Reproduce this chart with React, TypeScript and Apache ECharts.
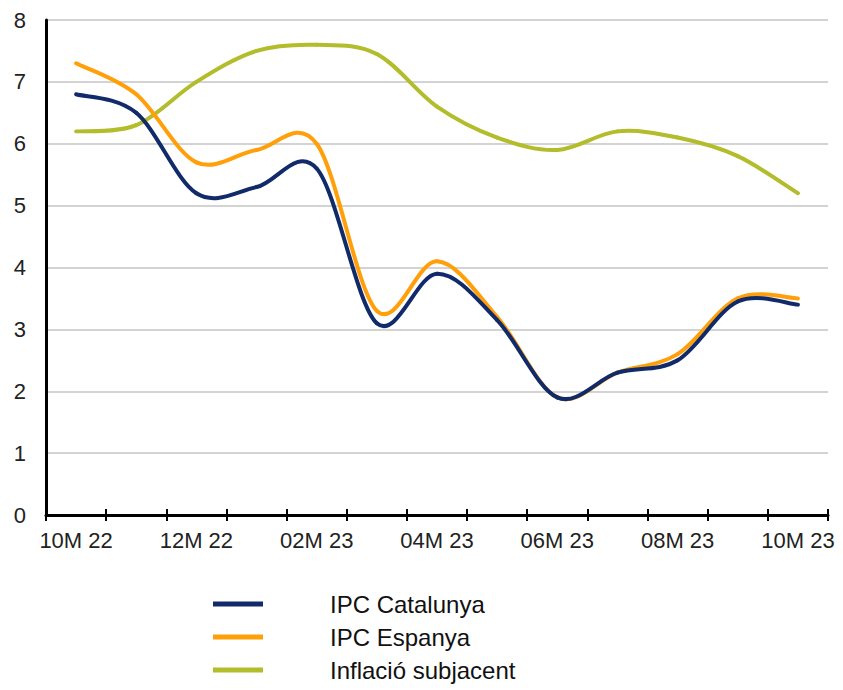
import React, { useEffect, useRef } from "react";
import * as echarts from "echarts";

const categories = [
  "10M 22", "11M 22", "12M 22", "01M 23", "02M 23", "03M 23", "04M 23",
  "05M 23", "06M 23", "07M 23", "08M 23", "09M 23", "10M 23",
];
const ipcCatalunya = [6.8, 6.5, 5.2, 5.3, 5.6, 3.1, 3.9, 3.15, 1.9, 2.3, 2.5, 3.45, 3.4];
const ipcEspanya = [7.3, 6.8, 5.7, 5.9, 6.0, 3.3, 4.1, 3.2, 1.9, 2.3, 2.6, 3.5, 3.5];
const inflacioSubjacent = [6.2, 6.3, 7.0, 7.5, 7.6, 7.45, 6.6, 6.1, 5.9, 6.2, 6.1, 5.8, 5.2];
const seriesNames = ["IPC Catalunya", "IPC Espanya", "Inflació subjacent"];
const seriesColors = ["#112a6a", "#ff9f0a", "#b3bc2b"];
const yMin = 0;
const yMax = 8;
const yInterval = 1;

function smoothSegmentRenderer(values: number[], color: string) {
  return (params: any, api: any) => {
    const i = params.dataIndex;
    const n = values.length;
    if (i >= n - 1) return null;
    const pt = (k: number) => {
      const kk = Math.max(0, Math.min(n - 1, k));
      return api.coord([kk, values[kk]]);
    };
    const p0 = pt(i - 1);
    const p1 = pt(i);
    const p2 = pt(i + 1);
    const p3 = pt(i + 2);
    return {
      type: "bezierCurve",
      shape: {
        x1: p1[0],
        y1: p1[1],
        x2: p2[0],
        y2: p2[1],
        cpx1: p1[0] + (p2[0] - p0[0]) / 6,
        cpy1: p1[1] + (p2[1] - p0[1]) / 6,
        cpx2: p2[0] - (p3[0] - p1[0]) / 6,
        cpy2: p2[1] - (p3[1] - p1[1]) / 6,
      },
      style: { stroke: color, lineWidth: 4, fill: "none", lineCap: "round" },
    };
  };
}

export default function App() {
  const ref = useRef<HTMLDivElement>(null);

  useEffect(() => {
    if (!ref.current) return;
    const chart = echarts.init(ref.current, undefined, { renderer: "svg" });
    const font = "'Liberation Sans', Arial, sans-serif";
    const dataSets = [ipcCatalunya, ipcEspanya, inflacioSubjacent];
    chart.setOption({
      animation: false,
      backgroundColor: "#ffffff",
      grid: { left: 46, right: 15, top: 20, bottom: 175, containLabel: false },
      legend: {
        orient: "vertical",
        left: 213,
        top: 591,
        padding: 0,
        icon: "rect",
        itemWidth: 50,
        itemHeight: 5,
        itemGap: 7,
        data: seriesNames,
        textStyle: {
          fontFamily: font,
          fontSize: 24,
          color: "#111111",
          lineHeight: 26,
          padding: [0, 0, 0, 62],
        },
      },
      xAxis: [
        {
          type: "category",
          data: categories,
          boundaryGap: true,
          axisLine: { show: true, lineStyle: { color: "#000000", width: 3 } },
          axisTick: { show: true, interval: 0, length: 6, lineStyle: { color: "#000000", width: 2 } },
          axisLabel: {
            interval: 1,
            fontFamily: font,
            fontSize: 22,
            color: "#222222",
            margin: 14,
          },
          splitLine: { show: false },
        },
        {
          type: "category",
          data: categories,
          position: "bottom",
          boundaryGap: true,
          axisLine: { show: false },
          axisTick: { show: true, inside: true, interval: 0, length: 6, lineStyle: { color: "#000000", width: 2 } },
          axisLabel: { show: false },
          splitLine: { show: false },
        },
      ],
      yAxis: {
        type: "value",
        min: yMin,
        max: yMax,
        interval: yInterval,
        axisLine: { show: true, lineStyle: { color: "#000000", width: 3 } },
        axisTick: { show: false },
        axisLabel: {
          fontFamily: font,
          fontSize: 22,
          color: "#222222",
          margin: 20,
        },
        splitLine: { show: true, lineStyle: { color: "#c4c4c4", width: 1.5 } },
      },
      series: seriesNames.map((name, i) => ({
        name,
        type: "custom",
        coordinateSystem: "cartesian2d",
        xAxisIndex: 0,
        yAxisIndex: 0,
        encode: { x: 0, y: 1 },
        data: dataSets[i].map((v, k) => [k, v]),
        renderItem: smoothSegmentRenderer(dataSets[i], seriesColors[i]),
        itemStyle: { color: seriesColors[i] },
        z: 3 - i,
      })),
    });
    return () => chart.dispose();
  }, []);

  return (
    <div
      ref={ref}
      style={{ position: "fixed", left: 0, top: 0, width: 843, height: 690 }}
    />
  );
}
